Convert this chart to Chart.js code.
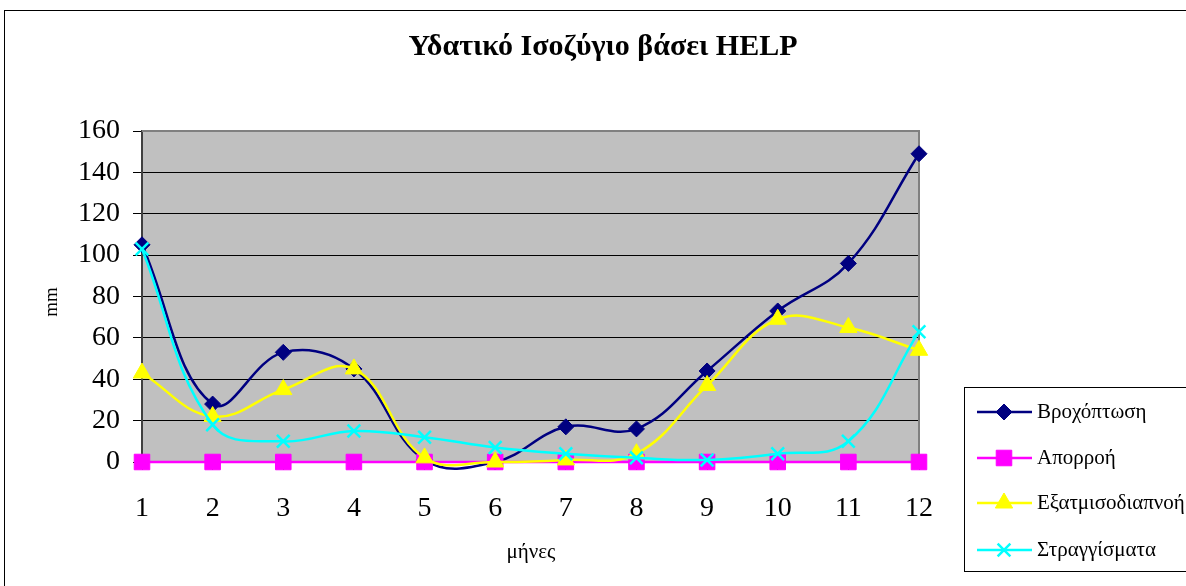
<!DOCTYPE html>
<html>
<head>
<meta charset="utf-8">
<script src="https://cdn.jsdelivr.net/npm/chart.js@4/dist/chart.umd.min.js"></script>
<style>
  html, body { margin: 0; padding: 0; background: #fff; }
  #wrap { width: 1186px; height: 586px; }
</style>
</head>
<body>
<div id="wrap"><canvas id="helpChart" width="1186" height="586"></canvas></div>
<script>
// monthly water balance (mm)
const months = ["1", "2", "3", "4", "5", "6", "7", "8", "9", "10", "11", "12"];
const rainfall = [105, 28, 53, 45, 1, 0, 17, 16, 44, 73, 96, 149];
const runoff = [0, 0, 0, 0, 0, 0, 0, 0, 0, 0, 0, 0];
const evapotranspiration = [43, 22, 35, 45, 2, 0, 1, 4, 37, 69, 65, 54];
const drainage = [103, 18, 10, 15, 12, 7, 4, 2, 1, 4, 10, 63];
const seriesNames = ["Βροχόπτωση", "Απορροή", "Εξατμισοδιαπνοή", "Στραγγίσματα"];
const yMin = 0, yMax = 160, yStep = 20;

const SERIF = "'Liberation Serif', 'Times New Roman', serif";

function series(label, data, color, style, radius, order) {
  return {
    label,
    data,
    borderColor: color,
    backgroundColor: color,
    pointBackgroundColor: color,
    pointBorderColor: color,
    pointStyle: style,
    pointRadius: radius,
    pointHoverRadius: radius,
    pointBorderWidth: style === "crossRot" ? 2.5 : 1,
    borderWidth: 2.5,
    tension: 0.4,
    clip: false,
    order
  };
}

const framePlugin = {
  id: "frame",
  beforeDraw(chart) {
    const { ctx, chartArea: a } = chart;
    ctx.save();
    ctx.fillStyle = "#fff";
    ctx.fillRect(0, 0, chart.width, chart.height);
    ctx.strokeStyle = "#000";
    ctx.lineWidth = 1;
    ctx.strokeRect(4.5, 10.5, 1400, 800);
    ctx.fillStyle = "#c0c0c0";
    ctx.fillRect(a.left, a.top, a.right - a.left, a.bottom - a.top);
    ctx.restore();
  },
  beforeDatasetsDraw(chart) {
    const { ctx, chartArea: a } = chart;
    ctx.save();
    ctx.strokeStyle = "#808080";
    ctx.lineWidth = 2;
    ctx.beginPath();
    ctx.moveTo(a.left, a.top);
    ctx.lineTo(a.right, a.top);
    ctx.lineTo(a.right, a.bottom);
    ctx.stroke();
    ctx.restore();
  },
  afterDraw(chart) {
    const { ctx } = chart;
    ctx.save();
    ctx.fillStyle = "#000";
    ctx.textAlign = "center";
    ctx.textBaseline = "middle";
    ctx.font = "bold 30px " + SERIF;
    ctx.fillText("Υδατικό Ισοζύγιο βάσει HELP", 603, 47);

    ctx.font = "21px " + SERIF;
    ctx.fillText("μήνες", 531, 552);
    ctx.save();
    ctx.translate(52, 302);
    ctx.rotate(-Math.PI / 2);
    ctx.font = "19px " + SERIF;
    ctx.fillText("mm", 0, 0);
    ctx.restore();

    // legend box
    ctx.fillStyle = "#fff";
    ctx.fillRect(964, 387, 400, 184);
    ctx.strokeStyle = "#000";
    ctx.lineWidth = 1;
    ctx.strokeRect(964.5, 387.5, 400, 184);
    const rows = [412, 458, 503, 550];
    chart.data.datasets.forEach((ds, i) => {
      const y = rows[i];
      ctx.strokeStyle = ds.borderColor;
      ctx.lineWidth = 2.5;
      ctx.beginPath();
      ctx.moveTo(977, y);
      ctx.lineTo(1032, y);
      ctx.stroke();
      ctx.fillStyle = ds.pointBackgroundColor;
      ctx.strokeStyle = ds.pointBorderColor;
      ctx.lineWidth = ds.pointBorderWidth;
      Chart.helpers.drawPoint(ctx, {
        pointStyle: ds.pointStyle,
        radius: ds.pointRadius,
        rotation: 0,
        borderWidth: ds.pointBorderWidth
      }, 1004, y);
      ctx.fillStyle = "#000";
      ctx.textAlign = "left";
      ctx.textBaseline = "middle";
      ctx.font = "21px " + SERIF;
      ctx.fillText(seriesNames[i], 1037, y);
    });
    ctx.restore();
  }
};

new Chart(document.getElementById("helpChart"), {
  type: "line",
  data: {
    labels: months,
    datasets: [
      series(seriesNames[0], rainfall, "#000080", "rectRot", 8, 4),
      series(seriesNames[1], runoff, "#ff00ff", "rect", 11, 3),
      series(seriesNames[2], evapotranspiration, "#ffff00", "triangle", 10, 2),
      series(seriesNames[3], drainage, "#00ffff", "crossRot", 9, 1)
    ]
  },
  plugins: [framePlugin],
  options: {
    responsive: false,
    animation: false,
    events: [],
    layout: { padding: { top: 131, right: 267, bottom: 0, left: 0 } },
    elements: { line: { capBezierPoints: false } },
    plugins: {
      legend: { display: false },
      title: { display: false },
      tooltip: { enabled: false }
    },
    scales: {
      x: {
        offset: false,
        grid: { drawOnChartArea: false, drawTicks: true, tickLength: 8, color: "#000" },
        border: { color: "#000", width: 1 },
        ticks: { color: "#000", padding: 22, maxRotation: 0, font: { family: SERIF, size: 28 } },
        afterFit(scale) { scale.height = 124; }
      },
      y: {
        min: yMin,
        max: yMax,
        grid: { color: "#000", lineWidth: 1, tickLength: 9 },
        border: { color: "#404040", width: 2 },
        ticks: { stepSize: yStep, color: "#000", padding: 13, font: { family: SERIF, size: 28 } },
        afterFit(scale) { scale.width = 142; }
      }
    }
  }
});
</script>
</body>
</html>
